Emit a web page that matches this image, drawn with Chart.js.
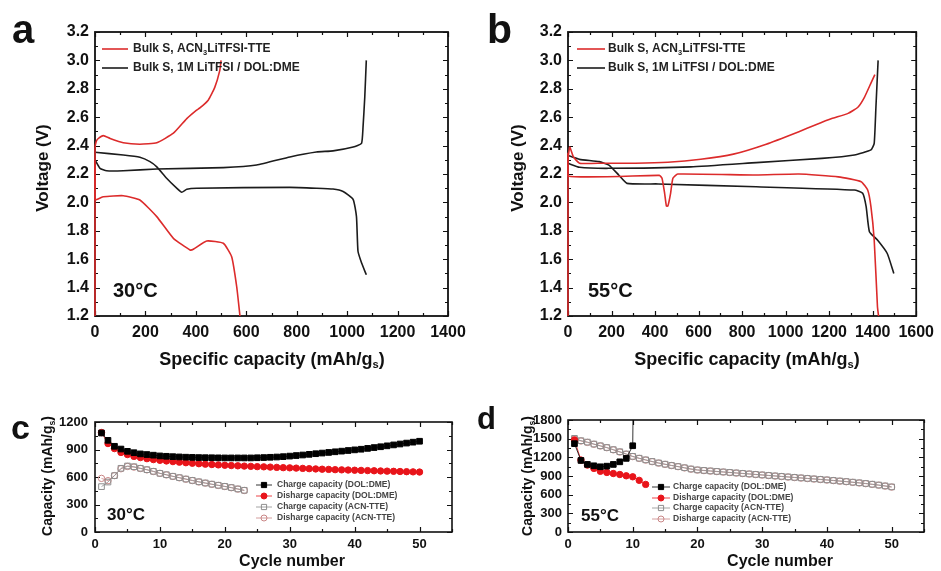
<!DOCTYPE html>
<html>
<head>
<meta charset="utf-8">
<script src="https://cdn.jsdelivr.net/npm/chart.js@4.4.1/dist/chart.umd.min.js"></script>
<style>
  html, body { margin: 0; padding: 0; background: #fff; overflow: hidden; }
  #wrap { position: relative; width: 941px; height: 571px; }
  #wrap canvas { position: absolute; left: 0; top: 0; }
</style>
</head>
<body>
<div id="wrap">
  <canvas id="pa" width="941" height="571"></canvas>
  <canvas id="pb" width="941" height="571"></canvas>
  <canvas id="pc" width="941" height="571"></canvas>
  <canvas id="pd" width="941" height="571"></canvas>
</div>
<script>
// ---- panel a (30 C voltage profiles) ----
const aAcnChargeCap = [0, 0, 5, 13, 33, 60, 112, 178, 245, 311, 364, 403, 416, 449, 475, 495, 500];
const aAcnChargeV   = [1.2, 2.38, 2.43, 2.45, 2.47, 2.45, 2.42, 2.41, 2.42, 2.487, 2.59, 2.65, 2.665, 2.72, 2.81, 2.93, 3.0];
const aAcnDischCap  = [0, 0, 33, 112, 178, 245, 311, 377, 390, 443, 509, 542, 562, 575];
const aAcnDischV    = [2.3, 2.02, 2.04, 2.047, 2.017, 1.90, 1.747, 1.665, 1.67, 1.728, 1.712, 1.617, 1.406, 1.2];
const aDolChargeCap = [0, 20, 46, 112, 245, 509, 641, 773, 878, 944, 1024, 1057, 1063, 1070, 1076];
const aDolChargeV   = [2.30, 2.24, 2.223, 2.223, 2.235, 2.245, 2.263, 2.32, 2.355, 2.363, 2.39, 2.416, 2.53, 2.744, 3.0];
const aDolDischCap  = [0, 112, 178, 218, 245, 284, 324, 344, 364, 403, 773, 878, 944, 984, 1024, 1037, 1043, 1057, 1076];
const aDolDischV    = [2.353, 2.334, 2.318, 2.287, 2.25, 2.17, 2.10, 2.071, 2.092, 2.10, 2.106, 2.10, 2.094, 2.077, 2.02, 1.90, 1.656, 1.575, 1.49];

// ---- panel b (55 C voltage profiles) ----
const bAcnChargeCap = [0, 0, 8, 25, 53, 158, 309, 459, 610, 760, 911, 1061, 1136, 1212, 1287, 1332, 1362, 1392, 1410];
const bAcnChargeV   = [1.2, 2.3, 2.39, 2.32, 2.276, 2.276, 2.276, 2.283, 2.304, 2.34, 2.41, 2.498, 2.545, 2.59, 2.627, 2.67, 2.74, 2.84, 2.9];
const bAcnDischCap  = [0, 0, 420, 432, 444, 452, 459, 471, 482, 504, 865, 1061, 1242, 1347, 1377, 1392, 1407, 1422, 1427];
const bAcnDischV    = [2.35, 2.186, 2.19, 2.17, 2.064, 1.975, 1.975, 2.06, 2.17, 2.20, 2.193, 2.20, 2.18, 2.146, 2.087, 1.97, 1.735, 1.265, 1.2];
const bDolChargeCap = [0, 53, 188, 564, 865, 1166, 1316, 1392, 1407, 1415, 1425];
const bDolChargeV   = [2.275, 2.247, 2.24, 2.25, 2.28, 2.31, 2.334, 2.37, 2.416, 2.674, 3.0];
const bDolDischCap  = [0, 53, 143, 188, 233, 271, 414, 865, 1316, 1354, 1370, 1385, 1422, 1467, 1497];
const bDolDischV    = [2.33, 2.303, 2.287, 2.263, 2.193, 2.134, 2.13, 2.11, 2.087, 2.064, 1.97, 1.794, 1.735, 1.64, 1.5];

// ---- panel c (30 C cycling, capacity per cycle from cycle 1) ----
const cDolCharge = [1080, 1000, 935, 905, 880, 865, 852, 845, 838, 830, 826, 822, 819, 816, 814, 812, 811, 810, 809, 808,
                    808, 808, 808, 808, 810, 812, 815, 818, 822, 828, 834, 840, 847, 854, 861, 868, 875, 882, 889, 896,
                    903, 912, 921, 930, 940, 950, 960, 970, 980, 990];
const cDolDisch  = [1085, 965, 910, 868, 845, 825, 812, 800, 790, 782, 775, 768, 762, 756, 750, 745, 740, 736, 732, 728,
                    725, 722, 719, 716, 713, 711, 708, 705, 702, 700, 697, 694, 691, 688, 685, 683, 680, 678, 676, 674,
                    672, 670, 668, 666, 664, 662, 660, 658, 656, 654];
const cAcnCharge = [495, 545, 615, 695, 720, 712, 695, 680, 662, 640, 625, 608, 593, 578, 563, 548, 535, 522, 510, 498, 485, 470, 455];
const cAcnDisch  = [585, 560, 615, 690, 715, 708, 693, 678, 660, 640, 623, 606, 591, 576, 561, 546, 533, 520, 508, 496, 483, 468, 453];

// ---- panel d (55 C cycling) ----
const dDolCharge = [1420, 1150, 1086, 1064, 1048, 1058, 1086, 1128, 1183, 1386, 12000];
const dDolDisch  = [1480, 1156, 1075, 1022, 975, 957, 940, 924, 903, 887, 830, 765];
const dAcnCharge = [1505, 1468, 1445, 1414, 1386, 1358, 1324, 1290, 1254, 1216, 1186, 1160, 1134, 1110, 1090, 1070, 1052, 1033, 1013, 998,
                    990, 982, 974, 966, 958, 950, 942, 934, 926, 918, 910, 902, 894, 886, 878, 870, 862, 854, 846, 838,
                    829, 820, 811, 801, 791, 780, 768, 755, 741, 725];
const dAcnDisch  = [1495, 1462, 1440, 1410, 1382, 1355, 1320, 1285, 1250, 1212, 1183, 1156, 1130, 1107, 1087, 1068, 1050, 1030, 1010, 995,
                    987, 979, 971, 963, 955, 947, 939, 931, 923, 915, 907, 899, 891, 883, 875, 867, 859, 851, 843, 835,
                    826, 817, 808, 798, 788, 777, 765, 752, 738, 722];

const FONT = '"Liberation Sans", Arial, sans-serif';
const RED = '#dc2b2b';
const BLACK = '#1c1c1c';
const W = 941, H = 571;

const pts = (xs, ys) => xs.map((x, i) => ({ x: x, y: ys[i] }));
const cyc = (ys) => ys.map((y, i) => ({ x: i + 1, y: y }));

// text with optional subscript parts, e.g. [['mAh/g'], ['s', true]]
function richWidth(ctx, parts, size) {
  let w = 0;
  parts.forEach(p => {
    ctx.font = 'bold ' + (p[1] ? size * 0.62 : size) + 'px ' + FONT;
    w += ctx.measureText(p[0]).width;
  });
  return w;
}
function drawRich(ctx, parts, x, y, size, align) {
  let cx = align === 'center' ? x - richWidth(ctx, parts, size) / 2 : x;
  ctx.textAlign = 'left';
  ctx.textBaseline = 'middle';
  parts.forEach(p => {
    ctx.font = 'bold ' + (p[1] ? size * 0.62 : size) + 'px ' + FONT;
    ctx.fillText(p[0], cx, p[1] ? y + size * 0.3 : y);
    cx += ctx.measureText(p[0]).width;
  });
}

function marker(ctx, style, x, y, r, fill, stroke) {
  ctx.beginPath();
  if (style === 'rect') ctx.rect(x - r, y - r, 2 * r, 2 * r);
  else ctx.arc(x, y, r, 0, Math.PI * 2);
  if (fill) { ctx.fillStyle = fill; ctx.fill(); }
  ctx.strokeStyle = stroke; ctx.lineWidth = 1; ctx.stroke();
}

function deco(cfg) {
  return {
    id: 'deco',
    // frame and inward ticks go under the data, so curves on the axis stay visible
    beforeDatasetsDraw(chart) {
      const ctx = chart.ctx;
      const { left, right, top, bottom } = chart.chartArea;
      const xs = chart.scales.x, ys = chart.scales.y;
      ctx.save();
      ctx.strokeStyle = '#111';
      ctx.lineWidth = cfg.frame;
      ctx.strokeRect(left, top, right - left, bottom - top);
      ctx.lineWidth = 1.2;
      ctx.beginPath();
      xs.ticks.forEach(t => {
        const p = Math.round(xs.getPixelForValue(t.value)) + 0.5;
        const len = t.label !== '' ? 5 : 3;
        ctx.moveTo(p, bottom); ctx.lineTo(p, bottom - len);
        ctx.moveTo(p, top); ctx.lineTo(p, top + len);
      });
      ys.ticks.forEach(t => {
        const p = Math.round(ys.getPixelForValue(t.value)) + 0.5;
        const len = t.label !== '' ? 5 : 3;
        ctx.moveTo(left, p); ctx.lineTo(left + len, p);
        ctx.moveTo(right, p); ctx.lineTo(right - len, p);
      });
      ctx.stroke();
      ctx.restore();
    },
    afterDraw(chart) {
      const ctx = chart.ctx;
      ctx.save();
      ctx.fillStyle = '#111';
      // panel letter
      ctx.font = 'bold ' + cfg.letter[3] + 'px ' + FONT;
      ctx.textAlign = 'left'; ctx.textBaseline = 'alphabetic';
      ctx.fillText(cfg.letter[0], cfg.letter[1], cfg.letter[2]);
      // temperature
      ctx.font = 'bold ' + cfg.temp[3] + 'px ' + FONT;
      ctx.fillText(cfg.temp[0], cfg.temp[1], cfg.temp[2]);
      // axis titles
      drawRich(ctx, cfg.xTitle[0], cfg.xTitle[1], cfg.xTitle[2], cfg.xTitle[3], 'center');
      ctx.save();
      ctx.translate(cfg.yTitle[1], cfg.yTitle[2]);
      ctx.rotate(-Math.PI / 2);
      drawRich(ctx, cfg.yTitle[0], 0, 0, cfg.yTitle[3], 'center');
      ctx.restore();

      // legend
      const lg = cfg.legend;
      chart.data.datasets.forEach((ds, i) => {
        if (i >= lg.rows.length) return;
        const y = lg.rows[i];
        ctx.strokeStyle = ds.borderColor;
        ctx.lineWidth = lg.lineW;
        ctx.beginPath(); ctx.moveTo(lg.x0, y); ctx.lineTo(lg.x1, y); ctx.stroke();
        if (lg.markers) {
          marker(ctx, ds.pointStyle, (lg.x0 + lg.x1) / 2, y, ds.pointStyle === 'rect' ? 2.6 : 3,
                 ds.pointBackgroundColor, ds.pointBorderColor);
        }
        ctx.fillStyle = lg.color;
        drawRich(ctx, ds.legendParts, lg.tx, y, lg.size, 'left');
      });
      ctx.restore();
    }
  };
}

function baseScales(xMax, xStep, xMajor, yMin, yMax, yStep, yMajor, yDec, tickSize, xPad, yPad) {
  return {
    x: {
      type: 'linear', min: 0, max: xMax,
      grid: { display: false, drawTicks: false }, border: { display: false },
      afterFit: s => { s.height = 30; },
      ticks: {
        stepSize: xStep, autoSkip: false, maxRotation: 0, padding: xPad, color: '#111',
        font: { family: FONT, size: tickSize, weight: 'bold' },
        callback: v => (Math.round(v / xStep) % (xMajor / xStep) === 0 ? String(v) : '')
      }
    },
    y: {
      type: 'linear', min: yMin, max: yMax,
      grid: { display: false, drawTicks: false }, border: { display: false },
      afterFit: s => { s.width = 50; },
      ticks: {
        stepSize: yStep, autoSkip: false, padding: yPad, color: '#111',
        font: { family: FONT, size: tickSize, weight: 'bold' },
        callback: v => (Math.round(v / yStep) % (yMajor / yStep) === 0 ? v.toFixed(yDec) : '')
      }
    }
  };
}

function makeChart(id, box, datasets, scales, cfg) {
  return new Chart(document.getElementById(id), {
    type: 'scatter',
    data: { datasets: datasets },
    options: {
      responsive: false, animation: false, devicePixelRatio: 1,
      layout: { padding: { left: box.l - 50, right: W - box.r, top: box.t, bottom: H - box.b - 30 } },
      plugins: { legend: { display: false }, tooltip: { enabled: false } },
      scales: scales
    },
    plugins: [deco(cfg)]
  });
}

function curve(label, color, data) {
  return { legendParts: label, data: data, showLine: true, borderColor: color, borderWidth: 1.6,
           pointRadius: 0, tension: 0.15, fill: false, clip: 2 };
}
const acnLabel = [['Bulk S, ACN'], ['3', true], ['LiTFSI-TTE']];
const dolLabel = [['Bulk S, 1M LiTFSI / DOL:DME']];

// panel a
makeChart('pa', { l: 95, r: 448, t: 32, b: 316 }, [
  curve(acnLabel, RED, pts(aAcnChargeCap, aAcnChargeV)),
  curve(dolLabel, BLACK, pts(aDolChargeCap, aDolChargeV)),
  curve(acnLabel, RED, pts(aAcnDischCap, aAcnDischV)),
  curve(dolLabel, BLACK, pts(aDolDischCap, aDolDischV))
], baseScales(1400, 100, 200, 1.2, 3.2, 0.1, 0.2, 1, 16, 7, 6), {
  frame: 1.8,
  letter: ['a', 12, 43, 40],
  temp: ['30°C', 113, 297, 20],
  xTitle: [[['Specific capacity (mAh/g'], ['s', true], [')']], 272, 360, 18],
  yTitle: [[['Voltage (V)']], 43, 168, 17],
  legend: { rows: [49, 68], x0: 102, x1: 128, tx: 133, size: 12, lineW: 1.6, color: '#222', markers: false }
});

// panel b
makeChart('pb', { l: 568, r: 923, t: 32, b: 316 }, [
  curve(acnLabel, RED, pts(bAcnChargeCap, bAcnChargeV)),
  curve(dolLabel, BLACK, pts(bDolChargeCap, bDolChargeV)),
  curve(acnLabel, RED, pts(bAcnDischCap, bAcnDischV)),
  curve(dolLabel, BLACK, pts(bDolDischCap, bDolDischV))
], baseScales(1600, 100, 200, 1.2, 3.2, 0.1, 0.2, 1, 16, 7, 6), {
  frame: 1.8,
  letter: ['b', 487, 43, 41],
  temp: ['55°C', 588, 297, 20],
  xTitle: [[['Specific capacity (mAh/g'], ['s', true], [')']], 747, 360, 18],
  yTitle: [[['Voltage (V)']], 518, 168, 17],
  legend: { rows: [49, 68], x0: 577, x1: 605, tx: 608, size: 12, lineW: 1.6, color: '#222', markers: false }
});

function series(label, data, style, stroke, fill, r) {
  return { legendParts: [[label]], data: data, showLine: true, borderColor: stroke, borderWidth: 0.8,
           pointStyle: style, pointRadius: r, pointBorderWidth: 1, pointBorderColor: stroke,
           pointBackgroundColor: fill, tension: 0 };
}
const GRAY = '#8e8e8e', PINK = '#c98686';

// panel c
makeChart('pc', { l: 95, r: 452, t: 422, b: 532 }, [
  series('Charge capacity (DOL:DME)', cyc(cDolCharge), 'rect', '#000', '#000', 4),
  series('Disharge capacity (DOL:DME)', cyc(cDolDisch), 'circle', '#e8141a', '#e8141a', 3.2),
  series('Charge capacity (ACN-TTE)', cyc(cAcnCharge), 'rect', GRAY, 'rgba(255,255,255,0)', 4),
  series('Disharge capacity (ACN-TTE)', cyc(cAcnDisch), 'circle', PINK, 'rgba(255,255,255,0)', 3.2)
], baseScales(55, 5, 10, 0, 1200, 150, 300, 0, 13, 5, 7), {
  frame: 1.6,
  letter: ['c', 11, 439, 34],
  temp: ['30°C', 107, 520, 17],
  xTitle: [[['Cycle number']], 292, 562, 16],
  yTitle: [[['Capacity (mAh/g'], ['s', true], [')']], 48, 476, 14],
  legend: { rows: [485, 496, 507, 518], x0: 256, x1: 272, tx: 277, size: 8.5, lineW: 0.8, color: '#444', markers: true }
});

// panel d
makeChart('pd', { l: 568, r: 924, t: 420, b: 532 }, [
  series('Charge capacity (DOL:DME)', cyc(dDolCharge), 'rect', '#000', '#000', 4),
  series('Disharge capacity (DOL:DME)', cyc(dDolDisch), 'circle', '#e8141a', '#e8141a', 3.2),
  series('Charge capacity (ACN-TTE)', cyc(dAcnCharge), 'rect', GRAY, 'rgba(255,255,255,0)', 4),
  series('Disharge capacity (ACN-TTE)', cyc(dAcnDisch), 'circle', PINK, 'rgba(255,255,255,0)', 3.2)
], baseScales(55, 5, 10, 0, 1800, 150, 300, 0, 13, 5, 6), {
  frame: 1.6,
  letter: ['d', 477, 429, 31],
  temp: ['55°C', 581, 521, 17],
  xTitle: [[['Cycle number']], 780, 562, 16],
  yTitle: [[['Capacity (mAh/g'], ['s', true], [')']], 528, 476, 14],
  legend: { rows: [487, 498, 508, 519], x0: 652, x1: 670, tx: 673, size: 8.5, lineW: 0.8, color: '#444', markers: true }
});
</script>
</body>
</html>
